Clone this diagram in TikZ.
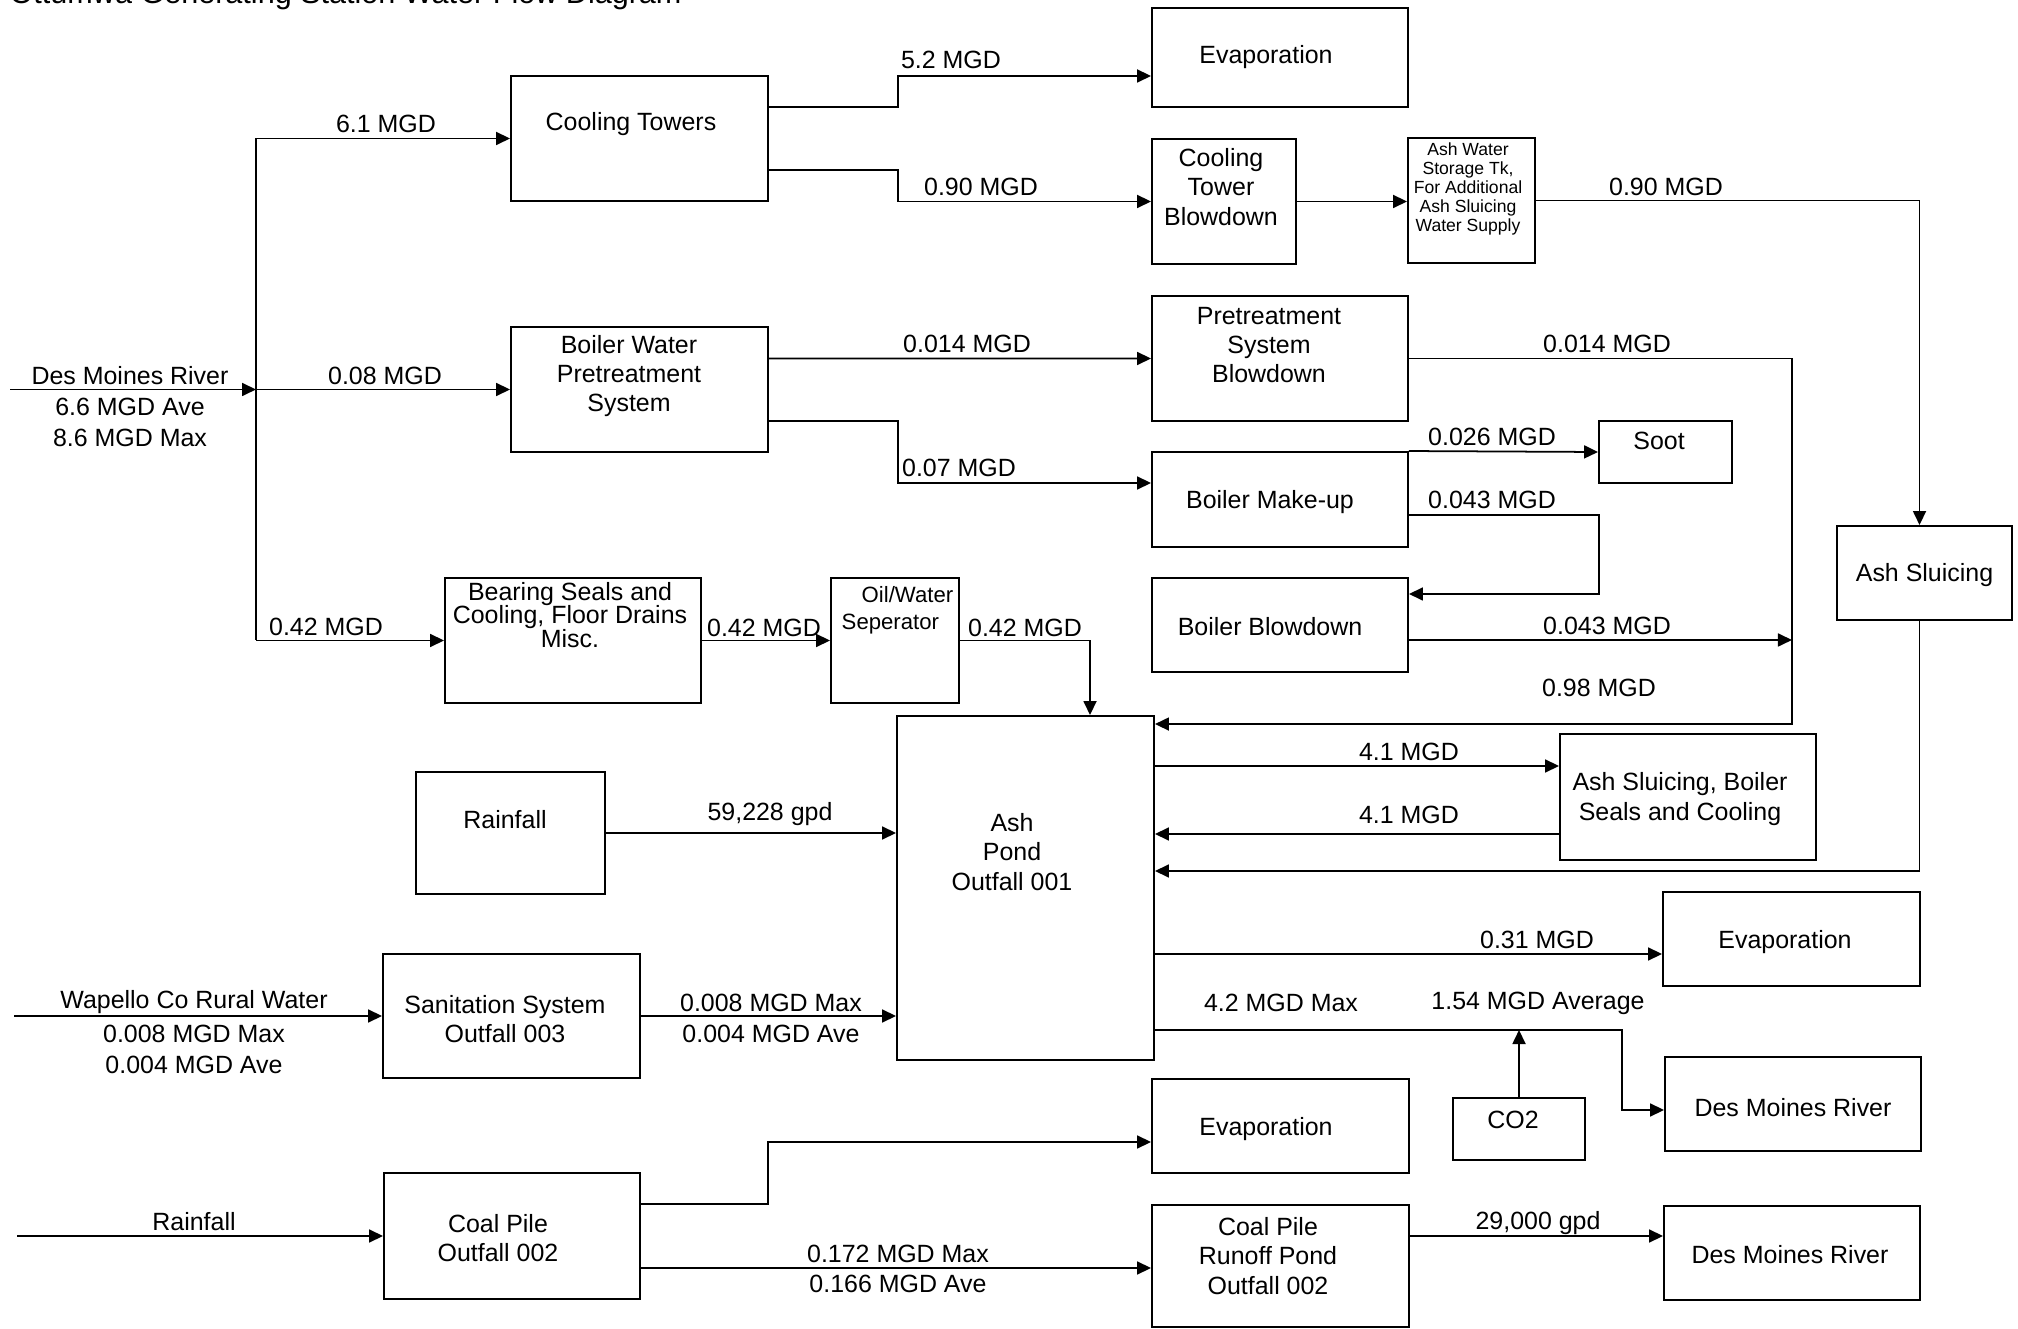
\documentclass[tikz,border=0pt]{standalone}
\usepackage{fontspec}
\setmainfont{Liberation Sans}
\usetikzlibrary{arrows.meta}

\begin{document}
\begin{tikzpicture}[flow/.style={-{Triangle[length=1.4mm,width=1.3mm]},line width=0.5pt},
  box/.style={draw,line width=0.55pt,inner sep=0pt},
  txt/.style={inner sep=0pt,align=center},
  font=\fontsize{7.1pt}{8.3pt}\selectfont]
\useasboundingbox (0,0) rectangle (20.18,-13.29);

\node[txt,anchor=base west,font=\fontsize{8.7pt}{10pt}\selectfont] (title) at (0.09,-0.04) {Ottumwa Generating Station Water Flow Diagram};

\node[box,minimum width=2.57cm,minimum height=1.25cm,label={[txt,xshift=-.85mm,yshift=1.45mm]center:Cooling Towers}] (ct) at (6.395,-1.385) {};
\node[box,minimum width=2.56cm,minimum height=0.99cm,label={[txt,xshift=-1.4mm]center:Evaporation}] (evapTop) at (12.80,-0.575) {};
\node[box,minimum width=1.44cm,minimum height=1.25cm,label={[txt,xshift=-.3mm,yshift=1.45mm]center:Cooling\\Tower\\Blowdown}] (ctb) at (12.24,-2.015) {};
\node[box,minimum width=1.27cm,minimum height=1.25cm,label={[txt,xshift=-.35mm,yshift=1.15mm,font=\fontsize{5pt}{5.4pt}\selectfont]center:{Ash Water\\Storage Tk,\\For Additional\\Ash Sluicing\\Water Supply}}] (aws) at (14.715,-2.005) {};
\node[box,minimum width=2.57cm,minimum height=1.25cm,label={[txt,xshift=-1.05mm,yshift=1.35mm]center:Boiler Water\\Pretreatment\\System}] (bwp) at (6.395,-3.895) {};
\node[box,minimum width=2.56cm,minimum height=1.25cm,label={[txt,xshift=-1.1mm,yshift=1.35mm]center:Pretreatment\\System\\Blowdown}] (psb) at (12.80,-3.585) {};
\node[box,minimum width=1.33cm,minimum height=0.62cm,label={[txt,xshift=-.65mm,yshift=1.1mm]center:Soot}] (soot) at (16.655,-4.52) {};
\node[box,minimum width=2.56cm,minimum height=0.95cm,label={[txt,xshift=-1mm,yshift=-.25mm]center:Boiler Make-up}] (bmu) at (12.80,-4.995) {};
\node[box,minimum width=2.56cm,minimum height=0.94cm,label={[txt,xshift=-1mm,yshift=-.2mm]center:Boiler Blowdown}] (bbd) at (12.80,-6.25) {};
\node[box,minimum width=1.75cm,minimum height=0.94cm,label={[txt,yshift=-.2mm]center:Ash Sluicing}] (ashS) at (19.245,-5.73) {};
\node[box,minimum width=2.56cm,minimum height=1.25cm,label={[txt,xshift=-.3mm,yshift=2.55mm,font=\fontsize{7.1pt}{6.7pt}\selectfont]center:{Bearing Seals and\\Cooling, Floor Drains\\Misc.}}] (bsc) at (5.73,-6.405) {};
\node[box,minimum width=1.28cm,minimum height=1.25cm,label={[txt,align=left,anchor=north west,xshift=1.1mm,yshift=-.9mm,font=\fontsize{6.3pt}{7.7pt}\selectfont]north west:\hspace*{2mm}Oil/Water\\Seperator}] (ows) at (8.95,-6.405) {};
\node[box,minimum width=2.57cm,minimum height=3.44cm,label={[txt,xshift=-1.35mm,yshift=3.6mm]center:Ash\\Pond\\Outfall 001}] (pond) at (10.255,-8.88) {};
\node[box,minimum width=1.89cm,minimum height=1.22cm,label={[txt,xshift=-.55mm,yshift=1.3mm]center:Rainfall}] (rainBox) at (5.105,-8.33) {};
\node[box,minimum width=2.56cm,minimum height=1.26cm,label={[txt,xshift=-.8mm,yshift=-.2mm]center:{Ash Sluicing, Boiler\\Seals and Cooling}}] (asbs) at (16.88,-7.97) {};
\node[box,minimum width=2.57cm,minimum height=0.94cm,label={[txt,xshift=-.65mm,yshift=-.3mm]center:Evaporation}] (evapMid) at (17.915,-9.39) {};
\node[box,minimum width=2.56cm,minimum height=0.94cm,label={[txt,yshift=-.4mm]center:Des Moines River}] (dmrMid) at (17.93,-11.04) {};
\node[box,minimum width=1.32cm,minimum height=0.62cm,label={[txt,xshift=-.6mm,yshift=.9mm]center:CO2}] (co2) at (15.19,-11.29) {};
\node[box,minimum width=2.57cm,minimum height=1.24cm,label={[txt,xshift=-.65mm,yshift=-.3mm]center:Sanitation System\\Outfall 003}] (san) at (5.115,-10.16) {};
\node[box,minimum width=2.56cm,minimum height=1.26cm,label={[txt,xshift=-1.4mm,yshift=-.2mm]center:Coal Pile\\Outfall 002}] (coal) at (5.12,-12.36) {};
\node[box,minimum width=2.57cm,minimum height=0.94cm,label={[txt,xshift=-1.45mm,yshift=-.3mm]center:Evaporation}] (evapBot) at (12.805,-11.26) {};
\node[box,minimum width=2.57cm,minimum height=1.22cm,label={[txt,xshift=-1.25mm,yshift=1mm]center:Coal Pile\\Runoff Pond\\Outfall 002}] (cprp) at (12.805,-12.66) {};
\node[box,minimum width=2.56cm,minimum height=0.94cm,label={[txt,xshift=-.2mm,yshift=-.2mm]center:Des Moines River}] (dmrBot) at (17.92,-12.53) {};

\coordinate (dmrIn) at (0.10,-3.895);
\coordinate (jTop) at (2.56,-1.385);
\coordinate (jMid) at (2.56,-3.895);
\coordinate (jBot) at (2.56,-6.405);
\coordinate (wapIn) at (0.14,-10.16);
\coordinate (rainIn) at (0.17,-12.36);

\draw[flow] (dmrIn) -- (jMid);
\draw[line width=0.5pt] (jTop) -- (jBot);
\draw[flow] (jTop) -- (ct.west);
\draw[flow] (jMid) -- (bwp.west);
\draw[flow] (jBot) -- (bsc.west);
\draw[flow] (bsc.east) -- (ows.west);
\draw[flow] (ows.east) -| ([xshift=6.45mm]pond.north);

\draw[flow] ([yshift=3.15mm]ct.east) -- ++(1.29,0) |- ([yshift=-1.85mm]evapTop.west);
\draw[flow] ([yshift=-3.15mm]ct.east) -- ++(1.29,0) |- (ctb.west);
\draw[flow] (ctb.east) -- (ctb.east -| aws.west);
\draw[flow] (aws.east) -| ([xshift=-.5mm]ashS.north);
\draw[flow] ([xshift=-.5mm]ashS.south) |- ([yshift=1.7mm]pond.east);

\draw[flow] ([yshift=3.1mm]bwp.east) -- (psb.west);
\draw[flow] ([yshift=-3.15mm]bwp.east) -- ++(1.29,0) |- ([yshift=1.65mm]bmu.west);
\draw[flow] (bmu.north east) -- (soot.west);
\draw[flow] ([yshift=-1.55mm]bmu.east) -- ++(1.90,0) |- ([yshift=3.1mm]bbd.east);
\draw[flow] (psb.east) -- ++(3.83,0) coordinate (cq) |- ([yshift=-.9mm]pond.north east);
\coordinate (bbdOut) at ([yshift=-1.5mm]bbd.east);
\draw[flow] (bbdOut) -- (bbdOut -| cq);

\coordinate (asbsIn) at ([yshift=3.1mm]asbs.west);
\coordinate (asbsOut) at ([yshift=-3.7mm]asbs.west);
\coordinate (evIn) at ([yshift=-1.5mm]evapMid.west);
\coordinate (pOut) at ([yshift=-14.2mm]pond.east);
\draw[flow] (asbsIn -| pond.east) -- (asbsIn);
\draw[flow] (asbsOut) -- (asbsOut -| pond.east);
\draw[flow] (evIn -| pond.east) -- (evIn);
\draw[flow] (pOut) -- ++(4.67,0) |- ([yshift=-.6mm]dmrMid.west);
\draw[flow] (co2.north) -- (co2.north |- pOut);

\draw[flow] (rainBox.east) -- (rainBox.east -| pond.west);
\draw[flow] (wapIn) -- (san.west);
\draw[flow] (san.east) -- (san.east -| pond.west);
\draw[flow] (rainIn) -- (coal.west);
\draw[flow] ([yshift=3.2mm]coal.east) -- ++(1.27,0) |- ([yshift=-1.6mm]evapBot.west);
\coordinate (coalOut) at ([yshift=-3.2mm]coal.east);
\draw[flow] (coalOut) -- (coalOut -| cprp.west);
\coordinate (cprpOut) at ([yshift=3mm]cprp.east);
\draw[flow] (cprpOut) -- (cprpOut -| dmrBot.west);

\node[txt] (lDmr1) at (1.30,-3.76) {Des Moines River};
\node[txt] (lDmr2) at (1.30,-4.07) {6.6 MGD Ave};
\node[txt] (lDmr3) at (1.30,-4.38) {8.6 MGD Max};
\node[txt] (l61) at (3.86,-1.24) {6.1 MGD};
\node[txt] (l08) at (3.85,-3.76) {0.08 MGD};
\node[txt] (l42a) at (3.26,-6.27) {0.42 MGD};
\node[txt] (l42b) at (7.64,-6.28) {0.42 MGD};
\node[txt] (l42c) at (10.25,-6.28) {0.42 MGD};
\node[txt] (l52) at (9.51,-0.60) {5.2 MGD};
\node[txt] (l90a) at (9.81,-1.87) {0.90 MGD};
\node[txt] (l90b) at (16.66,-1.87) {0.90 MGD};
\node[txt] (l014a) at (9.67,-3.44) {0.014 MGD};
\node[txt] (l014b) at (16.07,-3.44) {0.014 MGD};
\node[txt] (l07) at (9.59,-4.68) {0.07 MGD};
\node[txt] (l026) at (14.92,-4.37) {0.026 MGD};
\node[txt] (l043a) at (14.92,-5.00) {0.043 MGD};
\node[txt] (l043b) at (16.07,-6.26) {0.043 MGD};
\node[txt] (l98) at (15.99,-6.88) {0.98 MGD};
\node[txt] (l41a) at (14.09,-7.52) {4.1 MGD};
\node[txt] (l41b) at (14.09,-8.15) {4.1 MGD};
\node[txt] (l592) at (7.70,-8.14) {59,228 gpd};
\node[txt] (l31) at (15.37,-9.40) {0.31 MGD};
\node[txt] (l42max) at (12.81,-10.03) {4.2 MGD Max};
\node[txt] (l154) at (15.38,-10.03) {1.54 MGD Average};
\node[txt] (lWap1) at (1.94,-10.02) {Wapello Co Rural Water};
\node[txt] (lWap2) at (1.94,-10.34) {0.008 MGD Max};
\node[txt] (lWap3) at (1.94,-10.65) {0.004 MGD Ave};
\node[txt] (lSan1) at (7.71,-10.03) {0.008 MGD Max};
\node[txt] (lSan2) at (7.71,-10.34) {0.004 MGD Ave};
\node[txt] (lRain) at (1.94,-12.22) {Rainfall};
\node[txt] (l172) at (8.98,-12.54) {0.172 MGD Max};
\node[txt] (l166) at (8.98,-12.84) {0.166 MGD Ave};
\node[txt] (l29) at (15.38,-12.23) {29,000 gpd};
\end{tikzpicture}
\end{document}
